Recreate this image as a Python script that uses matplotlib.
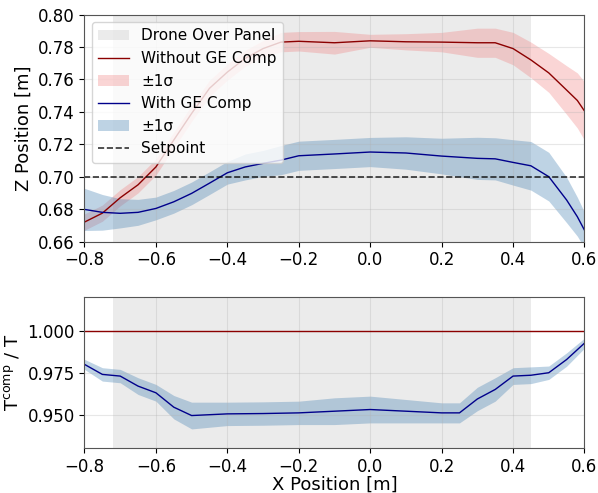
import numpy as np
import matplotlib.pyplot as plt

# X positions where values were read [m]
x_z = [-0.80, -0.75, -0.70, -0.65, -0.60, -0.55, -0.50, -0.45, -0.40, -0.35,
       -0.30, -0.25, -0.20, -0.10, 0.00, 0.10, 0.20, 0.30, 0.35, 0.40,
       0.45, 0.50, 0.55, 0.58, 0.60]

# Z position without ground-effect compensation
z_without = [0.672, 0.6775, 0.687, 0.695, 0.706, 0.7226, 0.739, 0.7545, 0.7645, 0.773,
             0.779, 0.783, 0.7835, 0.7826, 0.7838, 0.7832, 0.783, 0.7826, 0.7826, 0.779,
             0.772, 0.764, 0.7534, 0.747, 0.7405]
z_without_std = [0.005, 0.005, 0.005, 0.005, 0.005, 0.005, 0.005, 0.005, 0.005, 0.005,
                 0.005, 0.006, 0.006, 0.007, 0.004, 0.005, 0.006, 0.009, 0.009, 0.010,
                 0.011, 0.012, 0.015, 0.017, 0.018]

# Z position with ground-effect compensation
z_with = [0.6798, 0.678, 0.6774, 0.678, 0.6804, 0.6845, 0.6897, 0.696, 0.7024, 0.706,
          0.7082, 0.7102, 0.7129, 0.714, 0.7152, 0.7146, 0.7127, 0.7113, 0.711, 0.7088,
          0.7067, 0.700, 0.6856, 0.6753, 0.667]
z_with_std = [0.013, 0.011, 0.009, 0.008, 0.007, 0.007, 0.007, 0.007, 0.007, 0.008,
              0.008, 0.009, 0.009, 0.009, 0.009, 0.010, 0.011, 0.013, 0.013, 0.014,
              0.015, 0.015, 0.014, 0.012, 0.011]

# Thrust ratio T_comp / T
x_t = [-0.80, -0.75, -0.70, -0.65, -0.60, -0.55, -0.50, -0.40, -0.30, -0.20,
       -0.10, 0.00, 0.10, 0.20, 0.25, 0.30, 0.35, 0.40, 0.45, 0.50,
       0.55, 0.60]
ratio_with = [0.980, 0.974, 0.973, 0.967, 0.963, 0.9544, 0.9494, 0.9504, 0.9506, 0.951,
              0.952, 0.953, 0.952, 0.951, 0.951, 0.9593, 0.965, 0.973, 0.9735, 0.975,
              0.9829, 0.9927]
ratio_std = [0.003, 0.004, 0.004, 0.005, 0.005, 0.007, 0.008, 0.007, 0.007, 0.007,
             0.008, 0.008, 0.007, 0.006, 0.006, 0.007, 0.007, 0.005, 0.005, 0.004,
             0.004, 0.003]
ratio_without = [1.0] * len(x_t)

SETPOINT = 0.70
PANEL_START, PANEL_END = -0.72, 0.45

plt.rcParams["font.size"] = 12

fig = plt.figure(figsize=(5.98, 4.93), dpi=100)
ax1 = fig.add_axes([0.1413, 0.5101, 0.8361, 0.4604])
ax2 = fig.add_axes([0.1413, 0.0913, 0.8361, 0.3053])

x_z = np.array(x_z)
z_without, z_without_std = np.array(z_without), np.array(z_without_std)
z_with, z_with_std = np.array(z_with), np.array(z_with_std)

ax1.axvspan(PANEL_START, PANEL_END, color="#d3d3d3", alpha=0.45, lw=0, label="Drone Over Panel")
ax1.plot(x_z, z_without, color="darkred", lw=1, label="Without GE Comp")
ax1.fill_between(x_z, z_without - z_without_std, z_without + z_without_std,
                 color="lightcoral", alpha=0.33, lw=0, label="±1σ")
ax1.plot(x_z, z_with, color="darkblue", lw=1, label="With GE Comp")
ax1.fill_between(x_z, z_with - z_with_std, z_with + z_with_std,
                 color="steelblue", alpha=0.35, lw=0, label="±1σ")
ax1.axhline(SETPOINT, color="black", ls="--", lw=1.2, alpha=0.8, label="Setpoint")
ax1.set_xlim(-0.8, 0.6)
ax1.set_ylim(0.66, 0.80)
ax1.set_yticks(np.arange(0.66, 0.801, 0.02))
ax1.set_ylabel("Z Position [m]", fontsize=13)
ax1.grid(True, alpha=0.3)
ax1.legend(loc="upper left", fontsize=11, framealpha=0.8)

x_t = np.array(x_t)
ratio_with, ratio_std = np.array(ratio_with), np.array(ratio_std)

ax2.axvspan(PANEL_START, PANEL_END, color="#d3d3d3", alpha=0.45, lw=0)
ax2.plot(x_t, ratio_without, color="darkred", lw=1)
ax2.plot(x_t, ratio_with, color="darkblue", lw=1)
ax2.fill_between(x_t, ratio_with - ratio_std, ratio_with + ratio_std,
                 color="steelblue", alpha=0.35, lw=0)
ax2.set_xlim(-0.8, 0.6)
ax2.set_ylim(0.93, 1.02)
ax2.set_yticks([0.950, 0.975, 1.000])
ax2.set_ylabel(r"T$^{\mathrm{comp}}$ / T", fontsize=13)
ax2.set_xlabel("X Position [m]", fontsize=13, labelpad=0)
ax2.grid(True, alpha=0.3)

for ax in (ax1, ax2):
    for s in ax.spines.values():
        s.set_color("#555555")

fig.savefig("out.png", dpi=100)
